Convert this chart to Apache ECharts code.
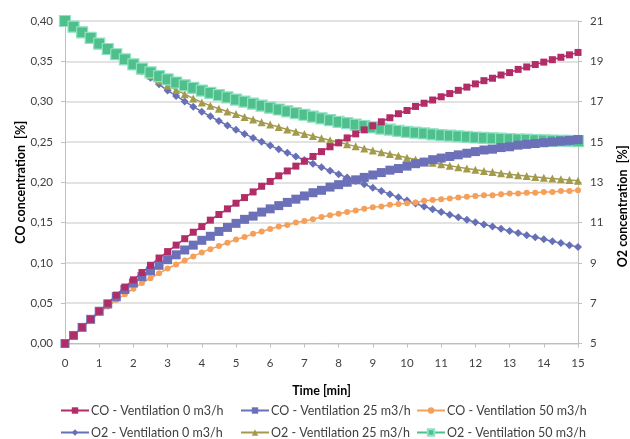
<!DOCTYPE html>
<html>
<head>
<meta charset="utf-8">
<script src="https://cdn.jsdelivr.net/npm/echarts@6/dist/echarts.min.js"></script>
<style>
  html, body { margin: 0; padding: 0; background: #ffffff; }
  #chart { width: 630px; height: 439px; }
</style>
</head>
<body>
<div id="chart"></div>
<script>
// Sampling times (min), every quarter minute
const time = [
  0, 0.25, 0.5, 0.75, 1, 1.25, 1.5, 1.75, 2, 2.25, 2.5, 2.75, 3, 3.25, 3.5, 3.75,
  4, 4.25, 4.5, 4.75, 5, 5.25, 5.5, 5.75, 6, 6.25, 6.5, 6.75, 7, 7.25, 7.5, 7.75,
  8, 8.25, 8.5, 8.75, 9, 9.25, 9.5, 9.75, 10, 10.25, 10.5, 10.75, 11, 11.25, 11.5, 11.75,
  12, 12.25, 12.5, 12.75, 13, 13.25, 13.5, 13.75, 14, 14.25, 14.5, 14.75, 15
];

// CO concentration [%]
const co0 = [
  0.000, 0.010, 0.020, 0.030, 0.040, 0.050, 0.060, 0.070, 0.079, 0.088, 0.097, 0.106,
  0.114, 0.122, 0.130, 0.138, 0.145, 0.153, 0.160, 0.167, 0.174, 0.181, 0.188, 0.195,
  0.201, 0.208, 0.214, 0.220, 0.226, 0.232, 0.238, 0.244, 0.249, 0.255, 0.260, 0.265,
  0.270, 0.275, 0.280, 0.285, 0.289, 0.294, 0.298, 0.302, 0.306, 0.310, 0.314, 0.318,
  0.322, 0.326, 0.329, 0.333, 0.336, 0.340, 0.343, 0.346, 0.349, 0.352, 0.355, 0.358,
  0.361
];
const co25 = [
  0.000, 0.010, 0.020, 0.030, 0.040, 0.049, 0.058, 0.067, 0.075, 0.083, 0.090, 0.097,
  0.104, 0.110, 0.116, 0.122, 0.128, 0.133, 0.139, 0.144, 0.149, 0.154, 0.158, 0.163,
  0.167, 0.171, 0.175, 0.179, 0.183, 0.187, 0.190, 0.194, 0.197, 0.200, 0.203, 0.206,
  0.209, 0.212, 0.215, 0.217, 0.220, 0.223, 0.225, 0.228, 0.230, 0.232, 0.234, 0.236,
  0.238, 0.240, 0.241, 0.243, 0.244, 0.246, 0.247, 0.248, 0.249, 0.250, 0.251, 0.252,
  0.253
];
const co50 = [
  0.000, 0.010, 0.020, 0.029, 0.038, 0.046, 0.054, 0.061, 0.068, 0.075, 0.081, 0.087,
  0.093, 0.098, 0.103, 0.108, 0.113, 0.117, 0.121, 0.125, 0.129, 0.132, 0.136, 0.139,
  0.142, 0.145, 0.147, 0.150, 0.152, 0.154, 0.157, 0.159, 0.161, 0.163, 0.165, 0.167,
  0.169, 0.170, 0.172, 0.173, 0.174, 0.175, 0.177, 0.178, 0.179, 0.180, 0.181, 0.182,
  0.183, 0.184, 0.184, 0.185, 0.186, 0.186, 0.187, 0.187, 0.188, 0.188, 0.189, 0.189,
  0.190
];

// O2 concentration [%]
const o2v0 = [
  21.00, 20.72, 20.44, 20.16, 19.88, 19.60, 19.33, 19.06, 18.80, 18.49, 18.18, 17.86,
  17.55, 17.28, 17.01, 16.75, 16.50, 16.27, 16.04, 15.82, 15.60, 15.40, 15.20, 15.01,
  14.82, 14.64, 14.46, 14.28, 14.10, 13.92, 13.75, 13.57, 13.40, 13.23, 13.06, 12.90,
  12.73, 12.57, 12.41, 12.25, 12.09, 11.94, 11.80, 11.66, 11.52, 11.39, 11.26, 11.14,
  11.02, 10.91, 10.80, 10.69, 10.58, 10.48, 10.37, 10.27, 10.17, 10.07, 9.98, 9.88,
  9.79
];
const o2v25 = [
  21.00, 20.72, 20.44, 20.16, 19.88, 19.61, 19.34, 19.08, 18.82, 18.56, 18.30, 18.05,
  17.80, 17.58, 17.37, 17.16, 16.96, 16.80, 16.65, 16.51, 16.38, 16.24, 16.11, 15.98,
  15.86, 15.74, 15.62, 15.51, 15.40, 15.29, 15.18, 15.08, 14.98, 14.88, 14.78, 14.68,
  14.58, 14.49, 14.40, 14.31, 14.22, 14.13, 14.05, 13.97, 13.89, 13.82, 13.75, 13.68,
  13.62, 13.56, 13.51, 13.45, 13.40, 13.35, 13.31, 13.26, 13.22, 13.18, 13.15, 13.11,
  13.08
];
const o2v50 = [
  21.00, 20.72, 20.44, 20.16, 19.88, 19.61, 19.35, 19.10, 18.85, 18.64, 18.45, 18.27,
  18.10, 17.95, 17.81, 17.68, 17.55, 17.43, 17.32, 17.21, 17.10, 17.00, 16.90, 16.80,
  16.70, 16.61, 16.52, 16.43, 16.35, 16.26, 16.17, 16.08, 16.00, 15.93, 15.86, 15.79,
  15.72, 15.66, 15.61, 15.55, 15.50, 15.46, 15.42, 15.38, 15.34, 15.31, 15.28, 15.25,
  15.22, 15.20, 15.18, 15.16, 15.14, 15.12, 15.11, 15.09, 15.08, 15.07, 15.06, 15.05,
  15.04
];

const seriesNames = [
  'CO - Ventilation 0 m3/h', 'CO - Ventilation 25 m3/h', 'CO - Ventilation 50 m3/h',
  'O2 - Ventilation 0 m3/h', 'O2 - Ventilation 25 m3/h', 'O2 - Ventilation 50 m3/h'
];

const FONT = 'Lato';
const TXT = '#404040';

function pairs(vals) {
  return time.map((t, i) => [t, vals[i]]);
}

function lineSeries(name, vals, yIdx, color, symbol, size, extraItem) {
  return {
    name: name,
    type: 'line',
    yAxisIndex: yIdx,
    data: pairs(vals),
    symbol: symbol,
    symbolSize: size,
    showSymbol: true,
    showAllSymbol: true,
    lineStyle: { color: color, width: 1.5 },
    itemStyle: Object.assign({ color: color, borderWidth: 0, opacity: 1 }, extraItem || {}),
    emphasis: { disabled: true },
    z: 2
  };
}

const series = [
  lineSeries(seriesNames[3], o2v0, 1, '#6670b6', 'diamond', 8),
  lineSeries(seriesNames[4], o2v25, 1, '#a39a4b', 'triangle', 8),
  lineSeries(seriesNames[5], o2v50, 1, '#4fbf8c', 'rect', 11, { borderColor: '#8fe3c4', borderWidth: 1.2 }),
  lineSeries(seriesNames[2], co50, 0, '#f5a05a', 'circle', 6),
  lineSeries(seriesNames[1], co25, 0, '#6b70b8', 'rect', 9),
  lineSeries(seriesNames[0], co0, 0, '#b22d67', 'rect', 7)
];

// One legend block per entry so the two rows line up in columns
const legendPos = [
  { name: seriesNames[0], left: 60, top: 404 },
  { name: seriesNames[1], left: 240, top: 404 },
  { name: seriesNames[2], left: 416, top: 404 },
  { name: seriesNames[3], left: 60, top: 426 },
  { name: seriesNames[4], left: 240, top: 426 },
  { name: seriesNames[5], left: 416, top: 426 }
];
const legends = legendPos.map(p => ({
  data: [p.name],
  left: p.left,
  top: p.top,
  itemWidth: 28,
  itemHeight: 8,
  itemGap: 0,
  padding: 0,
  selectedMode: false,
  textStyle: { fontFamily: FONT, fontSize: 12.5, color: TXT, padding: [0, 0, 0, -3] }
}));

const chart = echarts.init(document.getElementById('chart'), null, { renderer: 'canvas' });
chart.setOption({
  animation: false,
  backgroundColor: '#ffffff',
  grid: {
    left: 65, right: 52, top: 21, bottom: 95.5,
    containLabel: false,
    outerBoundsMode: 'none'
  },
  legend: legends,
  xAxis: {
    type: 'value',
    min: 0, max: 15, interval: 1,
    name: 'Time [min]',
    nameLocation: 'middle',
    nameGap: 41,
    nameMoveOverlap: false,
    nameTextStyle: { fontFamily: FONT, fontSize: 12.5, fontWeight: 'bold', color: '#000000' },
    axisLine: { show: true, lineStyle: { color: '#bfbfbf', width: 1 } },
    axisTick: { show: true, inside: false, length: 4, lineStyle: { color: '#bfbfbf' } },
    axisLabel: { fontFamily: FONT, fontSize: 11.5, color: TXT, margin: 14 },
    splitLine: { show: false }
  },
  yAxis: [
    {
      type: 'value',
      min: 0, max: 0.4, interval: 0.05,
      name: 'CO concentration  [%]',
      nameLocation: 'middle',
      nameGap: 38,
      nameMoveOverlap: false,
      nameRotate: 90,
      nameTextStyle: { fontFamily: FONT, fontSize: 12.5, fontWeight: 'bold', color: '#000000' },
      axisLine: { show: true, lineStyle: { color: '#bfbfbf', width: 1 } },
      axisTick: { show: true, length: 4, lineStyle: { color: '#bfbfbf' } },
      axisLabel: {
        fontFamily: FONT, fontSize: 11.5, color: TXT, margin: 12,
        formatter: v => v.toFixed(2).replace('.', ',')
      },
      splitLine: { show: true, lineStyle: { color: '#d9d9d9', width: 1.5 } }
    },
    {
      type: 'value',
      position: 'right',
      min: 5, max: 21, interval: 2,
      name: 'O2 concentration  [%]',
      nameLocation: 'middle',
      nameGap: 38,
      nameMoveOverlap: false,
      nameRotate: 90,
      nameTextStyle: { fontFamily: FONT, fontSize: 12.5, fontWeight: 'bold', color: '#000000', padding: [0, 48, 0, 0] },
      axisLine: { show: true, lineStyle: { color: '#bfbfbf', width: 1 } },
      axisTick: { show: true, length: 4, lineStyle: { color: '#bfbfbf' } },
      axisLabel: { fontFamily: FONT, fontSize: 11.5, color: TXT, margin: 12 },
      splitLine: { show: false }
    }
  ],
  series: series
});
</script>
</body>
</html>
